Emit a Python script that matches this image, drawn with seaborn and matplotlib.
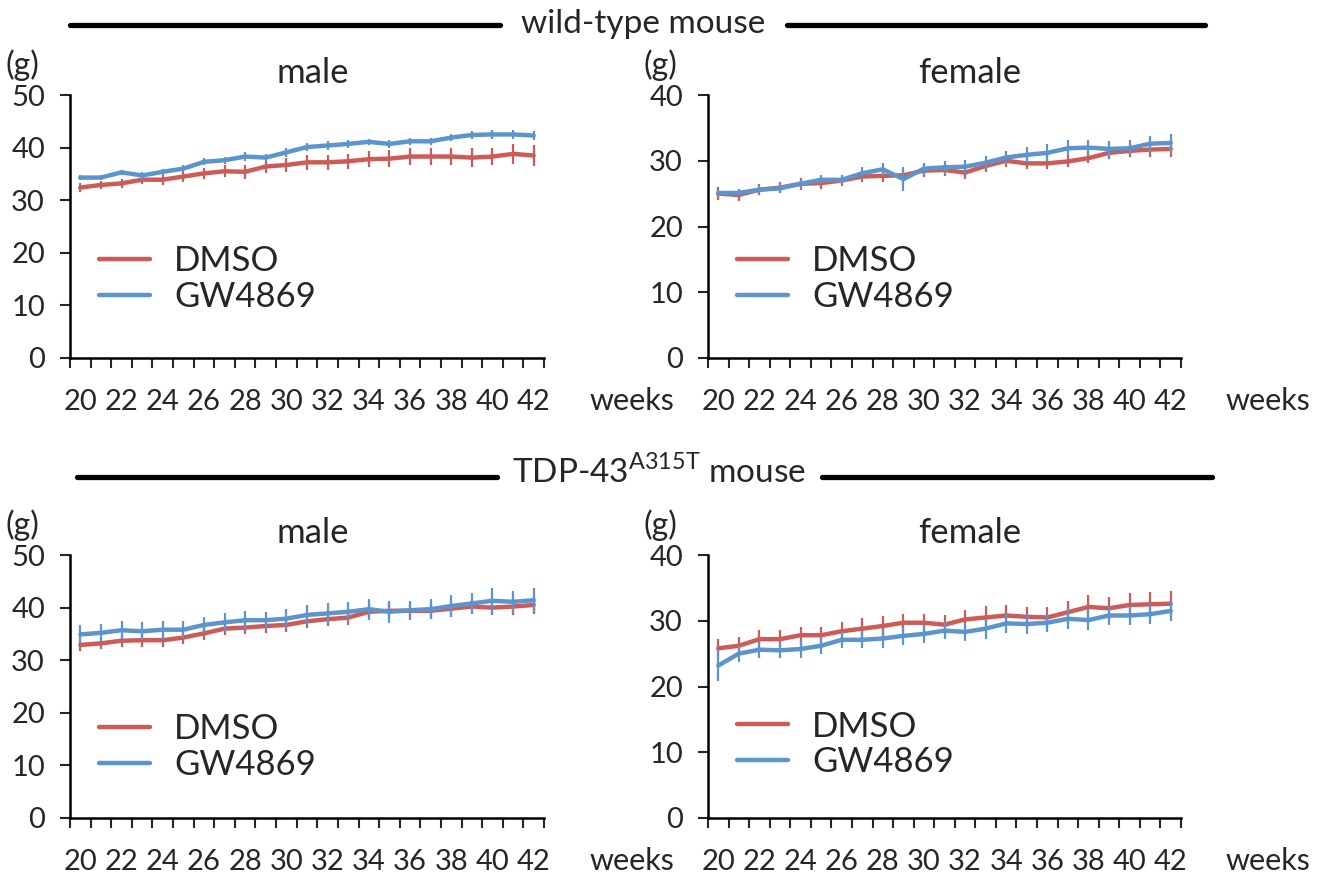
import numpy as np
import pandas as pd
import matplotlib
matplotlib.use("Agg")
import matplotlib.pyplot as plt
from matplotlib.lines import Line2D
import seaborn as sns

sns.set_style("white")
plt.rcParams['font.family'] = ['Lato', 'DejaVu Sans']
plt.rcParams['mathtext.fontset'] = 'custom'
plt.rcParams['mathtext.rm'] = 'Lato'

weeks = list(range(20, 43))
groups = ["DMSO", "GW4869"]

wt_male_dmso = [32.4, 32.9, 33.2, 33.9, 33.9, 34.5, 35.1, 35.5, 35.4, 36.4, 36.7, 37.2, 37.2, 37.4, 37.8, 37.9, 38.3, 38.3, 38.3, 38.1, 38.3, 38.8, 38.5]
wt_male_dmso_err = [0.8, 0.8, 0.8, 0.9, 1.0, 1.0, 1.0, 1.1, 1.3, 1.3, 1.3, 1.4, 1.4, 1.4, 1.5, 1.6, 1.7, 1.7, 1.7, 1.8, 1.7, 1.9, 2.0]
wt_male_gw = [34.3, 34.3, 35.3, 34.7, 35.4, 36.0, 37.3, 37.6, 38.3, 38.1, 39.1, 40.1, 40.4, 40.7, 41.1, 40.7, 41.2, 41.2, 41.9, 42.4, 42.5, 42.5, 42.3]
wt_male_gw_err = [0.5, 0.5, 0.5, 0.6, 0.6, 0.6, 0.7, 0.7, 0.8, 0.7, 0.8, 0.8, 0.8, 0.7, 0.6, 0.7, 0.7, 0.7, 0.7, 0.7, 0.8, 0.8, 0.9]

wt_female_dmso = [25.0, 24.8, 25.6, 25.9, 26.5, 26.6, 27.0, 27.6, 27.7, 27.8, 28.5, 28.6, 28.2, 29.2, 30.0, 29.6, 29.6, 29.9, 30.4, 31.2, 31.5, 31.7, 31.8]
wt_female_dmso_err = [1.0, 0.9, 0.8, 0.8, 0.9, 0.9, 0.8, 0.9, 0.9, 0.8, 0.9, 0.9, 0.9, 0.9, 0.9, 0.9, 0.9, 0.9, 0.8, 0.9, 1.0, 1.2, 1.2]
wt_female_gw = [25.1, 25.1, 25.6, 25.8, 26.5, 27.1, 27.1, 28.1, 28.7, 27.2, 28.8, 29.0, 29.1, 29.7, 30.5, 30.9, 31.2, 31.9, 32.0, 31.8, 31.9, 32.6, 32.7]
wt_female_gw_err = [0.5, 0.5, 0.6, 0.7, 0.6, 0.7, 0.6, 0.9, 1.0, 1.8, 0.9, 1.0, 1.0, 1.0, 1.0, 1.2, 1.3, 1.2, 1.2, 1.2, 1.2, 1.2, 1.3]

tdp_male_dmso = [32.9, 33.2, 33.7, 33.8, 33.8, 34.3, 35.1, 36.0, 36.2, 36.5, 36.7, 37.4, 37.8, 38.1, 39.2, 39.4, 39.4, 39.4, 39.8, 40.2, 40.0, 40.2, 40.5]
tdp_male_dmso_err = [1.1, 1.1, 1.1, 1.2, 1.2, 1.2, 1.2, 1.2, 1.3, 1.3, 1.3, 1.3, 1.3, 1.4, 1.4, 1.4, 1.5, 1.5, 1.5, 1.5, 1.5, 1.6, 1.7]
tdp_male_gw = [34.9, 35.2, 35.7, 35.5, 35.8, 35.8, 36.7, 37.2, 37.6, 37.6, 37.9, 38.6, 38.9, 39.2, 39.7, 39.2, 39.5, 39.7, 40.3, 40.8, 41.3, 41.1, 41.4]
tdp_male_gw_err = [1.7, 1.6, 1.7, 1.7, 1.7, 1.6, 1.6, 1.7, 1.7, 1.6, 1.8, 1.9, 2.0, 1.9, 2.0, 2.1, 1.8, 1.9, 2.1, 2.0, 2.4, 2.0, 2.3]

tdp_female_dmso = [25.8, 26.2, 27.2, 27.2, 27.8, 27.8, 28.4, 28.8, 29.2, 29.7, 29.7, 29.4, 30.2, 30.5, 30.8, 30.6, 30.5, 31.3, 32.1, 31.9, 32.4, 32.5, 32.6]
tdp_female_dmso_err = [1.4, 1.4, 1.4, 1.4, 1.3, 1.3, 1.4, 1.6, 1.5, 1.4, 1.4, 1.5, 1.5, 1.7, 1.6, 1.5, 1.6, 1.7, 1.8, 1.7, 1.8, 1.9, 1.9]
tdp_female_gw = [23.2, 25.0, 25.6, 25.5, 25.7, 26.2, 27.1, 27.1, 27.3, 27.7, 28.0, 28.5, 28.3, 28.8, 29.6, 29.5, 29.7, 30.3, 30.1, 30.8, 30.8, 31.0, 31.5]
tdp_female_gw_err = [2.4, 1.2, 1.3, 1.2, 1.3, 1.3, 1.2, 1.3, 1.4, 1.4, 1.4, 1.3, 1.4, 1.5, 1.5, 1.5, 1.4, 1.5, 1.5, 1.4, 1.5, 1.5, 1.5]

panels = [
    ("male", 50, wt_male_dmso, wt_male_dmso_err, wt_male_gw, wt_male_gw_err),
    ("female", 40, wt_female_dmso, wt_female_dmso_err, wt_female_gw, wt_female_gw_err),
    ("male", 50, tdp_male_dmso, tdp_male_dmso_err, tdp_male_gw, tdp_male_gw_err),
    ("female", 40, tdp_female_dmso, tdp_female_dmso_err, tdp_female_gw, tdp_female_gw_err),
]

RED = "#CD5C58"
BLUE = "#5C95CD"
palette = {"DMSO": RED, "GW4869": BLUE}

W, H = 1324, 876
fig = plt.figure(figsize=(W / 100, H / 100), dpi=100)

def box(l, r, t, b):
    return [l / W, 1 - b / H, (r - l) / W, (b - t) / H]

rects = [box(70, 544, 95, 358), box(708, 1181, 95, 358),
         box(70, 544, 555, 818), box(708, 1181, 555, 818)]
legend_y = [0.30, 0.30, 0.27, 0.28]

FS = 21
for i, (title, ymax, dm, dme, gw, gwe) in enumerate(panels):
    ax = fig.add_axes(rects[i])
    df = pd.DataFrame({
        "week": weeks * 2,
        "weight": dm + gw,
        "group": ["DMSO"] * len(weeks) + ["GW4869"] * len(weeks),
    })
    sns.lineplot(data=df, x="week", y="weight", hue="group", hue_order=groups,
                 palette=palette, linewidth=3.2, ax=ax, legend=True)
    ax.errorbar(weeks, dm, yerr=dme, fmt="none", ecolor=RED, elinewidth=1.6, capsize=0)
    ax.errorbar(weeks, gw, yerr=gwe, fmt="none", ecolor=BLUE, elinewidth=1.6, capsize=0)

    ax.set_xlim(19.5, 42.5)
    ax.set_ylim(0, ymax)
    ax.set_yticks(np.arange(0, ymax + 1, 10))
    ax.set_xticks(weeks[::2])
    ax.set_xticks(np.arange(19.5, 43, 1.0), minor=True)
    ax.tick_params(axis="x", which="major", length=0, pad=22, labelsize=FS)
    ax.tick_params(axis="x", which="minor", length=7, width=1.5, direction="out", bottom=True)
    ax.tick_params(axis="y", which="major", length=7, width=1.5, direction="out", left=True, pad=11, labelsize=FS)
    ax.set_xlabel("")
    ax.set_ylabel("")
    for s in ["top", "right"]:
        ax.spines[s].set_visible(False)
    for s in ["left", "bottom"]:
        ax.spines[s].set_linewidth(1.8)
        ax.spines[s].set_color("black")

    ax.text(-0.10, 1.115, "(g)", transform=ax.transAxes, ha="center", va="center", fontsize=23)
    ax.text(0.513 if i % 2 == 0 else 0.554, 1.084, title, transform=ax.transAxes,
            ha="center", va="center", fontsize=25)
    ax.text(1.095, -0.163, "weeks", transform=ax.transAxes, ha="left", va="center", fontsize=22)

    leg = ax.legend(loc="center left", bbox_to_anchor=(0.062, legend_y[i]), frameon=False,
                    fontsize=25, handlelength=1.45, handletextpad=0.7, labelspacing=0.1,
                    borderpad=0, borderaxespad=0, title=None)
    for h in leg.get_lines():
        h.set_linewidth(3.2)

def header(y, x1, x2, x3, x4, text, ty):
    fig.add_artist(Line2D([x1 / W, x2 / W], [1 - y / H, 1 - y / H], color="black", linewidth=3.8))
    fig.add_artist(Line2D([x3 / W, x4 / W], [1 - y / H, 1 - y / H], color="black", linewidth=3.8))
    fig.text((x2 + x3) / 2 / W, 1 - ty / H, text, ha="center", va="center", fontsize=24)

header(25, 70, 500, 787, 1205, "wild-type mouse", 24)
header(477, 77, 497, 822, 1212, r"TDP-43$^{\mathregular{A315T}}$ mouse", 472)

fig.savefig("out.png", dpi=100)
